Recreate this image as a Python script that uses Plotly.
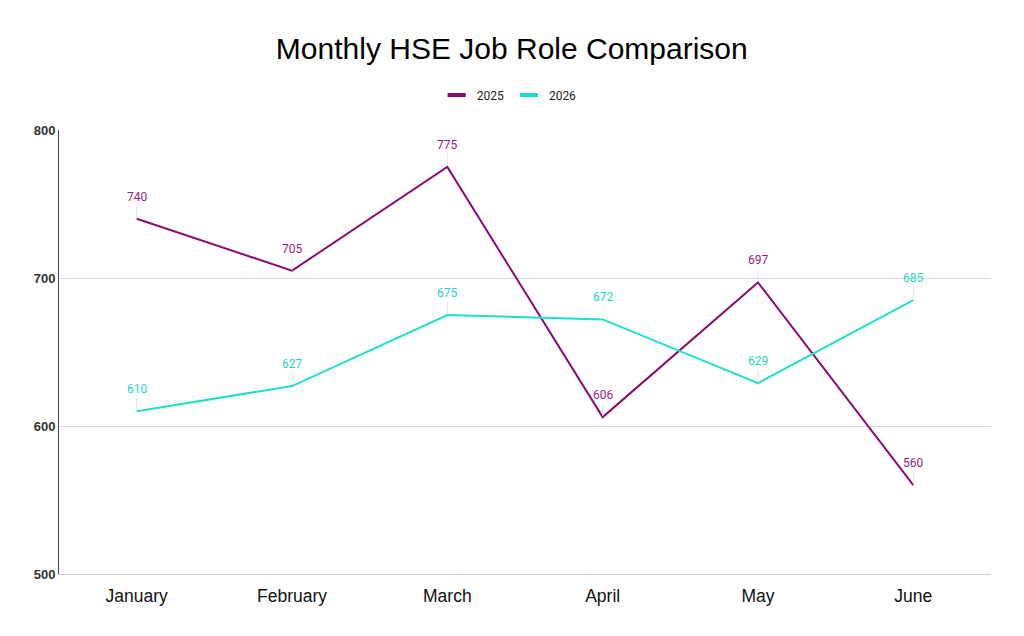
import plotly.graph_objects as go

# data
months = ['January', 'February', 'March', 'April', 'May', 'June']
jobs_2025 = [740, 705, 775, 606, 697, 560]
jobs_2026 = [610, 627, 675, 672, 629, 685]

c2025 = '#880e6f'
c2026 = '#1de0c8'

fig = go.Figure()
fig.add_trace(go.Scatter(x=months, y=jobs_2025, name='2025', mode='lines',
                         line=dict(color=c2025, width=2), showlegend=False))
fig.add_trace(go.Scatter(x=months, y=jobs_2026, name='2026', mode='lines',
                         line=dict(color=c2026, width=2), showlegend=False))

# legend entries drawn as short thick bars
for name, col in [('2025', c2025), ('2026', c2026)]:
    fig.add_trace(go.Scatter(x=[None], y=[None], name=name, mode='markers',
                             marker=dict(symbol='line-ew', size=13,
                                         line=dict(color=col, width=4))))

# point labels with a faint leader line
annots = []
for vals, col in [(jobs_2025, '#9a1a80'), (jobs_2026, '#1dd8c2')]:
    for m, v in zip(months, vals):
        annots.append(dict(x=m, y=v, text=str(v), showarrow=True, arrowhead=0,
                           arrowwidth=1, arrowcolor='#e6e6e6', ax=0, ay=-22,
                           standoff=1,
                           font=dict(family='Roboto', size=12, color=col)))

fig.update_layout(
    width=1024, height=636,
    paper_bgcolor='white', plot_bgcolor='white',
    margin=dict(l=51, r=41, t=122, b=70),
    title=dict(text='Monthly HSE Job Role Comparison', x=0.492, y=0.937,
               xanchor='center', yanchor='middle',
               font=dict(family='Liberation Sans, Arial', size=30, color='#000000')),
    legend=dict(orientation='h', x=0.483, xanchor='center', y=1.079, yanchor='middle',
                itemwidth=30, font=dict(family='Roboto', size=12, color='#222222')),
    annotations=annots,
    showlegend=True,
)
fig.update_xaxes(range=[-0.5, 5.5], showgrid=False, showline=True, linecolor='#cccccc',
                 linewidth=1, ticks='', ticklabelstandoff=6,
                 tickfont=dict(family='Liberation Sans, Arial', size=17.5, color='#111111'))
fig.update_yaxes(range=[500, 800], dtick=100, showgrid=True, gridcolor='#d9d9d9',
                 showline=True, linecolor='#444444', linewidth=1, zeroline=False,
                 ticks='', tickfont=dict(family='Liberation Sans, Arial', size=13,
                                         color='#333333', weight='bold'))

fig.write_html('out.html')
